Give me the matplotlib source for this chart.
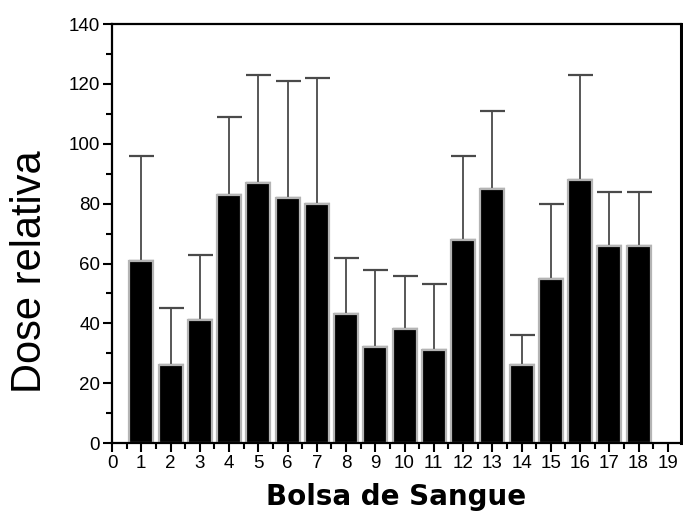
import numpy as np
import matplotlib
matplotlib.use("Agg")
import matplotlib.pyplot as plt
from matplotlib.ticker import MultipleLocator

# Bolsa de sangue (blood bag) index, mean relative dose and upper error value
bolsas = [1, 2, 3, 4, 5, 6, 7, 8, 9, 10, 11, 12, 13, 14, 15, 16, 17, 18]
dose   = [61, 26, 41, 83, 87, 82, 80, 43, 32, 38, 31, 68, 85, 26, 55, 88, 66, 66]
topo   = [96, 45, 63, 109, 123, 121, 122, 62, 58, 56, 53, 96, 111, 36, 80, 123, 84, 84]

x_ticks = list(range(0, 20))
y_ticks = list(range(0, 141, 20))

plt.rcParams["font.family"] = ["Liberation Sans", "DejaVu Sans"]


def main():
    fig = plt.figure(figsize=(6.83, 5.22), dpi=100)
    ax = fig.add_axes([0.164, 0.151, 0.833, 0.803])

    erro = np.array(topo) - np.array(dose)
    ax.bar(bolsas, dose, width=0.82, color="black", edgecolor="#b4b4b4",
           linewidth=1.6, zorder=2)
    ax.errorbar(bolsas, dose, yerr=[np.zeros(len(erro)), erro], fmt="none",
                ecolor="#4a4a4a", elinewidth=1.3, capsize=9, capthick=1.6,
                zorder=1)

    ax.set_xlim(0, 19.45)
    ax.set_ylim(0, 140)
    ax.set_xticks(x_ticks)
    ax.set_yticks(y_ticks)
    ax.xaxis.set_minor_locator(MultipleLocator(0.5))
    ax.yaxis.set_minor_locator(MultipleLocator(10))
    ax.tick_params(which="major", direction="out", length=6.5, width=1.5,
                   labelsize=13.5, pad=2)
    ax.tick_params(which="minor", direction="out", length=4, width=1.5)

    for side in ["left", "bottom", "top"]:
        ax.spines[side].set_linewidth(1.6)
    ax.spines["right"].set_linewidth(2.2)

    ax.set_ylabel("Dose relativa", fontsize=30)
    ax.yaxis.set_label_coords(-0.109, 0.408)
    ax.set_xlabel("Bolsa de Sangue", fontsize=20, fontweight="bold",
                  family="DejaVu Sans", labelpad=8)

    fig.savefig("out.png", dpi=100)
    plt.close(fig)


if __name__ == "__main__":
    main()
